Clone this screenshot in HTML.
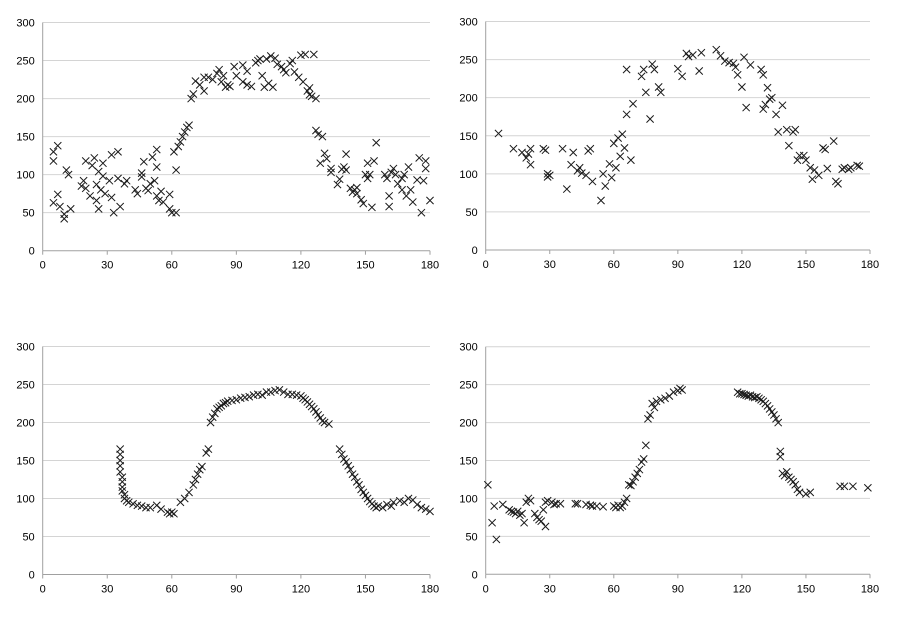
<!DOCTYPE html>
<html><head><meta charset="utf-8"><style>
html,body{margin:0;padding:0;background:#fff;width:899px;height:629px;overflow:hidden}
svg{position:absolute;left:0;top:0}
text{font-family:"Liberation Sans",sans-serif;font-size:11px;fill:#000}
</style></head><body>
<svg id="svg" width="899" height="629"></svg>
<script>
const xTicks=[0,30,60,90,120,150,180];
const yTicks=[0,50,100,150,200,250,300];
const series1=[[5,130],[5,118],[7,138],[5,63],[7,74],[8,58],[10,48],[10,42],[11,106],[12,100],[13,55],[18,85],[19,92],[20,118],[20,82],[22,72],[23,112],[24,122],[25,87],[25,66],[26,104],[26,55],[27,80],[28,115],[28,98],[29,75],[31,92],[32,70],[32,126],[33,50],[35,130],[35,95],[36,58],[38,88],[39,92],[43,80],[44,75],[46,97],[46,102],[47,117],[48,82],[49,79],[50,88],[51,123],[52,92],[53,133],[53,110],[53,72],[54,66],[55,78],[56,64],[59,74],[59,55],[60,50],[61,130],[62,106],[62,50],[63,137],[64,143],[65,150],[66,156],[67,162],[68,165],[69,200],[70,206],[71,223],[73,218],[75,210],[75,228],[77,228],[79,225],[81,233],[82,238],[83,222],[84,230],[85,215],[86,218],[87,216],[89,242],[90,230],[93,244],[93,222],[95,218],[95,236],[97,216],[99,247],[100,250],[101,252],[102,230],[103,215],[104,252],[105,220],[106,256],[107,215],[108,253],[109,245],[111,242],[112,238],[113,234],[115,246],[116,250],[117,235],[119,228],[120,257],[121,222],[122,258],[123,210],[124,214],[124,205],[125,203],[126,258],[127,200],[127,158],[128,153],[129,115],[130,150],[131,128],[132,121],[134,108],[134,103],[137,87],[138,94],[139,107],[140,110],[141,106],[141,127],[143,82],[144,77],[145,80],[146,83],[146,75],[148,67],[149,62],[150,100],[151,95],[151,115],[152,100],[153,57],[154,118],[155,142],[159,100],[160,95],[161,72],[161,58],[162,103],[163,108],[164,100],[165,88],[167,80],[167,95],[168,100],[169,72],[170,110],[171,80],[172,64],[174,93],[175,122],[176,50],[177,92],[178,118],[178,108],[180,66]];
const series2=[[6,153],[13,133],[17,128],[19,121],[20,126],[21,112],[21,133],[27,133],[28,131],[29,100],[29,96],[30,98],[36,133],[38,80],[40,112],[41,128],[43,104],[44,108],[45,101],[47,98],[48,130],[49,133],[50,90],[54,65],[55,100],[56,84],[58,113],[59,95],[60,140],[61,108],[62,147],[63,123],[64,152],[65,134],[66,178],[66,237],[68,118],[69,192],[73,228],[74,237],[75,207],[77,172],[78,244],[79,237],[81,214],[82,207],[90,238],[92,228],[94,258],[95,254],[97,256],[100,235],[101,259],[108,263],[110,255],[112,248],[114,246],[116,245],[117,240],[118,230],[120,214],[121,253],[122,187],[124,243],[129,237],[130,230],[130,185],[131,191],[132,213],[133,198],[134,200],[136,178],[137,155],[139,190],[141,158],[142,137],[144,155],[145,158],[146,118],[147,124],[149,124],[150,118],[152,108],[153,93],[154,105],[156,98],[158,134],[159,132],[160,107],[163,143],[164,90],[165,87],[167,106],[168,108],[170,106],[171,108],[174,111],[175,110]];
const series3=[[36,165],[36,158],[36,150],[36,143],[36,135],[37,128],[37,122],[37,115],[37,110],[38,105],[38,100],[39,97],[40,95],[42,93],[44,91],[46,90],[48,88],[50,88],[53,91],[55,86],[58,82],[59,80],[60,82],[61,80],[64,95],[66,100],[68,108],[70,118],[71,125],[72,132],[73,138],[74,142],[76,160],[77,165],[78,200],[79,207],[80,212],[81,218],[82,220],[83,222],[84,225],[85,226],[86,228],[88,229],[90,230],[92,232],[94,233],[96,234],[98,236],[100,237],[102,236],[104,240],[106,240],[108,242],[110,243],[112,240],[114,237],[116,237],[118,236],[120,235],[121,232],[122,230],[123,227],[124,224],[125,221],[126,218],[127,214],[128,210],[129,206],[130,202],[131,200],[133,198],[138,165],[139,158],[140,152],[141,148],[142,143],[143,138],[144,132],[145,128],[146,122],[147,118],[148,112],[149,108],[150,104],[151,100],[152,96],[153,93],[154,90],[155,88],[156,90],[158,88],[160,92],[162,90],[163,95],[166,97],[168,95],[170,100],[172,98],[174,92],[176,88],[178,86],[180,83]];
const series4=[[1,118],[3,68],[4,90],[5,46],[8,92],[11,85],[12,83],[13,82],[14,80],[15,83],[16,78],[17,80],[18,68],[19,95],[20,100],[21,97],[23,80],[24,75],[25,72],[26,70],[27,85],[28,63],[28,95],[29,97],[31,95],[32,92],[33,93],[35,93],[42,93],[43,93],[47,92],[49,91],[50,90],[52,90],[55,89],[60,90],[61,88],[62,91],[63,88],[64,90],[65,95],[66,100],[67,118],[68,117],[69,122],[70,128],[71,133],[72,138],[73,148],[74,152],[75,170],[76,205],[77,210],[78,225],[79,220],[80,228],[82,230],[84,232],[86,235],[88,240],[90,242],[91,245],[92,243],[118,240],[119,238],[120,238],[121,237],[122,236],[123,235],[124,236],[125,234],[126,233],[127,234],[128,232],[129,230],[130,228],[131,225],[132,222],[133,218],[134,214],[135,210],[136,205],[137,200],[138,162],[138,155],[139,133],[140,130],[141,135],[142,128],[143,125],[144,122],[145,118],[146,112],[147,108],[150,106],[152,108],[166,116],[168,116],[172,116],[179,114]];

const NS='http://www.w3.org/2000/svg';
const svg=document.getElementById('svg');
function mk(tag,attrs,parent){const e=document.createElementNS(NS,tag);for(const k in attrs)e.setAttribute(k,attrs[k]);parent.appendChild(e);return e;}
const panels=[
 {data:series1,x0:42.7,x1:430,y0:250.7,y1:22.5,name:'chart-top-left'},
 {data:series2,x0:485.7,x1:870,y0:250,y1:21.5,name:'chart-top-right'},
 {data:series3,x0:42.7,x1:430,y0:574.5,y1:346.5,name:'chart-bottom-left'},
 {data:series4,x0:485.7,x1:870,y0:574.3,y1:346.7,name:'chart-bottom-right'}
];
panels.forEach(p=>{
 const g=mk('g',{},svg);
 
 
 const sx=v=>p.x0+(v/180)*(p.x1-p.x0);
 const sy=v=>p.y0+(v/300)*(p.y1-p.y0);
 yTicks.forEach(t=>{
  if(t>0){const l=mk('line',{x1:p.x0,x2:p.x1,y1:sy(t),y2:sy(t),stroke:'#d4d4d4','stroke-width':1},g);
  
  }
  const tx=mk('text',{x:p.x0-8,y:sy(t)+4,'text-anchor':'end'},g);tx.textContent=t;
  
  
 });
 const ya=mk('line',{x1:p.x0,x2:p.x0,y1:p.y1,y2:p.y0,stroke:'#a0a0a0','stroke-width':1},g);
 
 
 const xa=mk('line',{x1:p.x0,x2:p.x1,y1:p.y0,y2:p.y0,stroke:'#a0a0a0','stroke-width':1},g);
 
 
 xTicks.forEach(t=>{
  mk('line',{x1:sx(t),x2:sx(t),y1:p.y0,y2:p.y0+4,stroke:'#a0a0a0'},g);
  const tx=mk('text',{x:sx(t),y:p.y0+18,'text-anchor':'middle'},g);tx.textContent=t;
  
  
 });
 p.data.forEach(d=>{
  const cx=sx(d[0]),cy=sy(d[1]),r=3.6;
  const m=mk('path',{d:`M${cx-r},${cy-r}L${cx+r},${cy+r}M${cx-r},${cy+r}L${cx+r},${cy-r}`,stroke:'#1a1a1a','stroke-width':1,fill:'none'},g);
  
  
 });
});
</script>
</body></html>
